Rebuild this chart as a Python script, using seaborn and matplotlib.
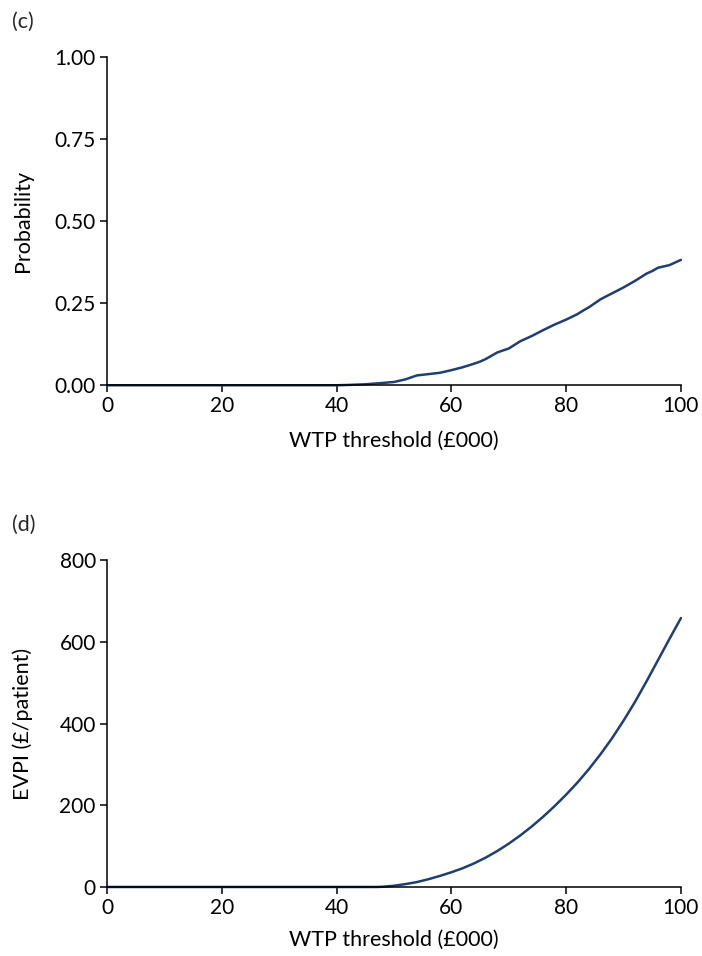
import numpy as np
import pandas as pd
import matplotlib
matplotlib.use("Agg")
import matplotlib.pyplot as plt
import seaborn as sns

# Panel (c): probability cost-effective
wtp_c = [0, 10, 20, 30, 40, 42, 45, 48, 50, 52, 54, 56, 58, 60, 62, 64, 65, 66, 67, 68,
         70, 72, 74, 76, 78, 80, 82, 83, 84, 86, 88, 90, 92, 94, 95, 96, 98, 100]
prob_c = [0, 0, 0, 0, 0, 0.001, 0.003, 0.007, 0.010, 0.018, 0.030, 0.034, 0.038, 0.046,
          0.055, 0.066, 0.072, 0.080, 0.090, 0.100, 0.112, 0.134, 0.150, 0.168, 0.185,
          0.200, 0.217, 0.228, 0.238, 0.262, 0.280, 0.298, 0.318, 0.340, 0.348, 0.358,
          0.366, 0.382]

# Panel (d): EVPI
wtp_d = [0, 10, 20, 30, 40, 45, 47, 48, 50, 52, 54, 56, 58, 60, 62, 64, 66, 68, 70, 72,
         74, 76, 78, 80, 82, 84, 86, 88, 90, 92, 94, 96, 98, 100]
evpi_d = [0, 0, 0, 0, 0, 0, 0, 0.5, 3, 7, 12, 19, 27, 36, 46, 58, 72, 88, 106, 126,
          148, 172, 198, 226, 256, 289, 325, 364, 407, 453, 503, 555, 607, 658]

xticks = [0, 20, 40, 60, 80, 100]
yticks_c = [0, 0.25, 0.5, 0.75, 1.0]
yticklabels_c = ["0.00", "0.25", "0.50", "0.75", "1.00"]
yticks_d = [0, 200, 400, 600, 800]

sns.set_theme(style="ticks")
plt.rcParams["font.family"] = ["Lato", "DejaVu Sans"]

color = "#1f3f72"
fig = plt.figure(figsize=(7.02, 9.56), dpi=100)
ax1 = fig.add_axes([0.1524, 0.597, 0.8176, 0.3434])
ax2 = fig.add_axes([0.1524, 0.0722, 0.8176, 0.342])

df_c = pd.DataFrame({"wtp": wtp_c, "prob": prob_c})
df_d = pd.DataFrame({"wtp": wtp_d, "evpi": evpi_d})
sns.lineplot(data=df_c, x="wtp", y="prob", ax=ax1, color=color, lw=1.8)
sns.lineplot(data=df_d, x="wtp", y="evpi", ax=ax2, color=color, lw=1.8)

fs_tick = 15
fs_lab = 15.5
for ax, yt, ylab, ylim, xly in [(ax1, yticks_c, "Probability", (0, 1), -0.168),
                                (ax2, yticks_d, "EVPI (£/patient)", (0, 800), -0.162)]:
    ax.set_xlim(0, 100)
    ax.set_ylim(*ylim)
    ax.set_xticks(xticks)
    ax.set_yticks(yt)
    ax.set_xlabel("WTP threshold (£000)", fontsize=fs_lab, color="black")
    ax.set_ylabel(ylab, fontsize=fs_lab, color="black")
    ax.xaxis.set_label_coords(0.5, xly)
    ax.xaxis.label.set_va("center")
    ax.yaxis.set_label_coords(-0.146, 0.5)
    ax.yaxis.label.set_va("center")
    ax.tick_params(axis="both", labelsize=fs_tick, colors="black", direction="out",
                   length=5, width=1.1, pad=3)
    for s in ["top", "right"]:
        ax.spines[s].set_visible(False)
    for s in ["left", "bottom"]:
        ax.spines[s].set_color("black")
        ax.spines[s].set_linewidth(1.1)
    ax.margins(0)
    for line in ax.lines:
        line.set_clip_on(False)

ax1.set_yticklabels(yticklabels_c)

fig.text(0.017, 0.977, "(c)", fontsize=fs_lab, ha="left", va="center")
fig.text(0.017, 0.451, "(d)", fontsize=fs_lab, ha="left", va="center")

fig.savefig("out.png", dpi=100, facecolor="white")
